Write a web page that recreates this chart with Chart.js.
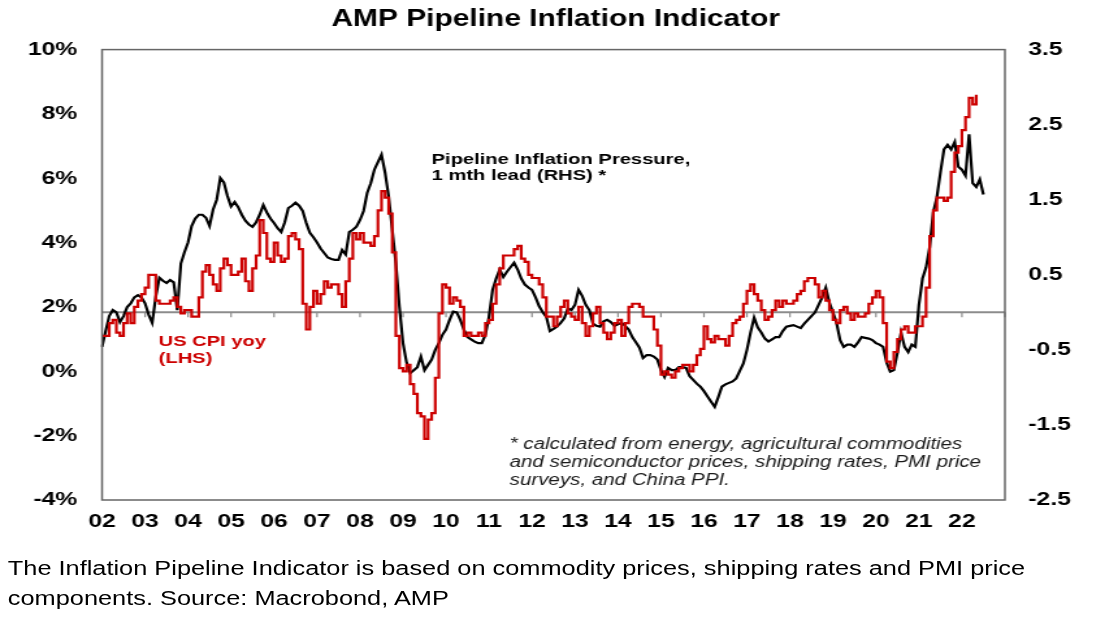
<!DOCTYPE html>
<html>
<head>
<meta charset="utf-8">
<title>AMP Pipeline Inflation Indicator</title>
<script src="https://cdn.jsdelivr.net/npm/chart.js@4.4.1/dist/chart.umd.min.js"></script>
<style>
  html, body { margin: 0; padding: 0; background: #fff; }
  /* the source picture is stretched sideways, so the whole chart is drawn narrower and widened */
  #stretch { position: absolute; left: 0; top: 0; width: 855px; height: 631px; transform: scaleX(1.3); transform-origin: 0 0; }
  #box { position: absolute; left: 0; top: 0; width: 855px; height: 545px; }
  #caption { position: absolute; left: 6px; top: 553px; font-family: "Liberation Sans", Arial, sans-serif;
             font-size: 19.5px; line-height: 30px; color: #000; white-space: nowrap; }
</style>
</head>
<body>
<div id="stretch">
  <div id="box"><canvas id="lineChart"></canvas></div>
  <div id="caption">The Inflation Pipeline Indicator is based on commodity prices, shipping rates and PMI price<br>components. Source: Macrobond, AMP</div>
</div>
<script>
// monthly categories, Jan 2002 .. Jan 2023
const months = [];
for (let y = 2002; y <= 2023; y++) {
    for (let m = 1; m <= 12; m++) {
        if (y === 2023 && m > 1) break;
        months.push(y + '-' + String(m).padStart(2, '0'));
    }
}

// US CPI yoy, % (LHS), Jan 2002 .. May 2022
const cpiYoy = [
    1.1, 1.1, 1.5, 1.6, 1.2, 1.1, 1.5, 1.8, 1.5, 2.0, 2.2, 2.4,      // 2002
    2.6, 3.0, 3.0, 2.2, 2.1, 2.1, 2.1, 2.2, 2.3, 2.0, 1.8, 1.9,      // 2003
    1.9, 1.7, 1.7, 2.3, 3.1, 3.3, 3.0, 2.7, 2.5, 3.2, 3.5, 3.3,      // 2004
    3.0, 3.0, 3.1, 3.5, 2.8, 2.5, 3.2, 3.6, 4.7, 4.3, 3.5, 3.4,      // 2005
    4.0, 3.6, 3.4, 3.5, 4.2, 4.3, 4.1, 3.8, 2.1, 1.3, 2.0, 2.5,      // 2006
    2.1, 2.4, 2.8, 2.6, 2.7, 2.7, 2.4, 2.0, 2.8, 3.5, 4.3, 4.1,      // 2007
    4.3, 4.0, 4.0, 3.9, 4.2, 5.0, 5.6, 5.4, 4.9, 3.7, 1.1, 0.1,      // 2008
    0.0, 0.2, -0.4, -0.7, -1.3, -1.4, -2.1, -1.5, -1.3, -0.2, 1.8, 2.7, // 2009
    2.6, 2.1, 2.3, 2.2, 2.0, 1.1, 1.2, 1.1, 1.1, 1.2, 1.1, 1.5,      // 2010
    1.6, 2.1, 2.7, 3.2, 3.6, 3.6, 3.6, 3.8, 3.9, 3.5, 3.4, 3.0,      // 2011
    2.9, 2.9, 2.7, 2.3, 1.7, 1.7, 1.4, 1.7, 2.0, 2.2, 1.8, 1.7,      // 2012
    1.6, 2.0, 1.5, 1.1, 1.4, 1.8, 2.0, 1.5, 1.2, 1.0, 1.2, 1.5,      // 2013
    1.6, 1.1, 1.5, 2.0, 2.1, 2.1, 2.0, 1.7, 1.7, 1.7, 1.3, 0.8,      // 2014
    -0.1, 0.0, -0.1, -0.2, 0.0, 0.1, 0.2, 0.2, 0.0, 0.2, 0.5, 0.7,   // 2015
    1.4, 1.0, 0.9, 1.1, 1.0, 1.0, 0.8, 1.1, 1.5, 1.6, 1.7, 2.1,      // 2016
    2.5, 2.7, 2.4, 2.2, 1.9, 1.6, 1.7, 1.9, 2.2, 2.0, 2.2, 2.1,      // 2017
    2.1, 2.2, 2.4, 2.5, 2.8, 2.9, 2.9, 2.7, 2.3, 2.5, 2.2, 1.9,      // 2018
    1.6, 1.5, 1.9, 2.0, 1.8, 1.6, 1.8, 1.7, 1.7, 1.8, 2.1, 2.3,      // 2019
    2.5, 2.3, 1.5, 0.3, 0.1, 0.6, 1.0, 1.3, 1.4, 1.2, 1.2, 1.4,      // 2020
    1.4, 1.7, 2.6, 4.2, 5.0, 5.4, 5.4, 5.3, 5.4, 6.2, 6.8, 7.0,      // 2021
    7.5, 7.9, 8.5, 8.3, 8.6                                          // 2022
];

// Pipeline Inflation Pressure, 1 mth lead (RHS), Jan 2002 .. Jul 2022
const pipeline = [
    -0.46, -0.25, -0.05, 0.03, 0.0, -0.13, -0.05, 0.07, 0.12, 0.2, 0.23, 0.2,        // 2002
    0.12, -0.03, -0.14, 0.21, 0.46, 0.42, 0.39, 0.43, 0.4, 0.03, 0.65, 0.8,          // 2003
    0.93, 1.15, 1.25, 1.3, 1.3, 1.26, 1.15, 1.37, 1.5, 1.79, 1.73, 1.55,             // 2004
    1.41, 1.47, 1.4, 1.3, 1.22, 1.17, 1.14, 1.2, 1.3, 1.43, 1.33, 1.25,              // 2005
    1.19, 1.12, 1.07, 1.2, 1.39, 1.42, 1.46, 1.42, 1.35, 1.19, 1.06, 1.0,            // 2006
    0.93, 0.85, 0.79, 0.73, 0.71, 0.7, 0.7, 0.83, 0.77, 1.07, 1.1, 1.14,             // 2007
    1.23, 1.35, 1.59, 1.72, 1.9, 2.0, 2.1, 1.86, 1.54, 1.1, 0.66, 0.07,              // 2008
    -0.41, -0.67, -0.81, -0.77, -0.73, -0.59, -0.77, -0.7, -0.63, -0.5, -0.41, -0.3, // 2009
    -0.23, -0.1, 0.01, 0.0, -0.1, -0.23, -0.33, -0.36, -0.39, -0.41, -0.41, -0.3,    // 2010
    -0.06, 0.3, 0.45, 0.57, 0.47, 0.54, 0.6, 0.66, 0.57, 0.45, 0.37, 0.33,           // 2011
    0.3, 0.2, 0.08, 0.0, -0.06, -0.25, -0.22, -0.19, -0.14, -0.08, 0.05, 0.03,       // 2012
    0.1, 0.3, 0.22, 0.1, 0.03, -0.15, -0.18, -0.19, -0.12, -0.1, -0.13, -0.18,       // 2013
    -0.16, -0.14, -0.18, -0.23, -0.33, -0.4, -0.47, -0.61, -0.57, -0.57, -0.59, -0.63, // 2014
    -0.77, -0.86, -0.74, -0.77, -0.77, -0.73, -0.73, -0.74, -0.85, -0.9, -0.95, -0.99, // 2015
    -1.05, -1.12, -1.19, -1.26, -1.13, -0.99, -0.96, -0.94, -0.92, -0.88, -0.78, -0.68, // 2016
    -0.5, -0.27, -0.07, -0.2, -0.27, -0.35, -0.39, -0.36, -0.33, -0.33, -0.25, -0.19, // 2017
    -0.18, -0.17, -0.19, -0.21, -0.15, -0.1, -0.05, 0.0, 0.1, 0.2, 0.33, 0.13,       // 2018
    0.0, -0.14, -0.37, -0.46, -0.43, -0.43, -0.46, -0.4, -0.33, -0.34, -0.35, -0.37, // 2019
    -0.41, -0.43, -0.46, -0.67, -0.79, -0.77, -0.54, -0.27, -0.46, -0.53, -0.43, -0.46, // 2020
    0.1, 0.45, 0.6, 0.87, 1.33, 1.53, 1.86, 2.17, 2.23, 2.17, 2.27, 1.94,            // 2021
    1.9, 1.82, 2.37, 1.72, 1.67, 1.77, 1.57                                          // 2022
];

const leftTicks = { min: -4, max: 10, step: 2 };
const rightTicks = { min: -2.5, max: 3.5, step: 1 };

const RED = '#cc0000';
const FONT = '"Liberation Sans", Arial, sans-serif';

const notes = [
    { lines: ['Pipeline Inflation Pressure,', '1 mth lead (RHS) *'], x: 332, y: 164, step: 16,
      font: 'bold 15.5px ' + FONT, color: '#000' },
    { lines: ['US CPI yoy', '(LHS)'], x: 122, y: 346, step: 17,
      font: 'bold 15.5px ' + FONT, color: RED },
    { lines: ['* calculated from energy, agricultural commodities',
              'and semiconductor prices, shipping rates, PMI price',
              'surveys, and China PPI.'], x: 392, y: 449, step: 18,
      font: 'italic 15.8px ' + FONT, color: '#1a1a1a' }
];

// zero line on the RHS scale with year ticks, plot frame and the text notes
const decorations = {
    id: 'decorations',
    beforeDatasetsDraw(chart) {
        const { ctx, chartArea: a, scales } = chart;
        const y0 = scales.y2.getPixelForValue(0);
        ctx.save();
        ctx.strokeStyle = '#8c8c8c';
        ctx.lineWidth = 2;
        ctx.beginPath();
        ctx.moveTo(a.left, y0);
        ctx.lineTo(a.right, y0);
        ctx.stroke();
        ctx.lineWidth = 1.2;
        ctx.beginPath();
        months.forEach((m, i) => {
            if (i > 0 && m.endsWith('-01')) {
                const x = scales.x.getPixelForValue(i);
                ctx.moveTo(x, y0);
                ctx.lineTo(x, y0 + 5);
            }
        });
        ctx.stroke();
        ctx.restore();
    },
    afterDraw(chart) {
        const { ctx, chartArea: a } = chart;
        ctx.save();
        ctx.strokeStyle = '#666';
        ctx.lineWidth = 1.5;
        ctx.strokeRect(a.left, a.top, a.right - a.left, a.bottom - a.top);
        ctx.textBaseline = 'alphabetic';
        ctx.textAlign = 'left';
        notes.forEach(n => {
            ctx.font = n.font;
            ctx.fillStyle = n.color;
            n.lines.forEach((t, k) => ctx.fillText(t, n.x, n.y + k * n.step));
        });
        ctx.restore();
    }
};

const ctx = document.getElementById('lineChart').getContext('2d');
const chartInstance = new Chart(ctx, {
    type: 'line',
    data: {
        labels: months,
        datasets: [
            {
                label: 'US CPI yoy (LHS)',
                data: cpiYoy,
                yAxisID: 'y',
                borderColor: RED,
                borderWidth: 2.2,
                stepped: true,
                pointRadius: 0,
                fill: false
            },
            {
                label: 'Pipeline Inflation Pressure, 1 mth lead (RHS)',
                data: pipeline,
                yAxisID: 'y2',
                borderColor: '#000',
                borderWidth: 2.2,
                tension: 0,
                pointRadius: 0,
                fill: false
            }
        ]
    },
    options: {
        responsive: true,
        maintainAspectRatio: false,
        animation: false,
        layout: { padding: 0 },
        plugins: {
            legend: { display: false },
            tooltip: { enabled: false },
            title: {
                display: true,
                text: 'AMP Pipeline Inflation Indicator',
                color: '#000',
                font: { family: FONT, size: 23, weight: 'bold' },
                padding: { top: 6, bottom: 16 }
            }
        },
        scales: {
            x: {
                type: 'category',
                grid: { display: false, drawTicks: false },
                border: { display: false },
                ticks: {
                    autoSkip: false,
                    maxRotation: 0,
                    padding: 10,
                    color: '#000',
                    font: { family: FONT, size: 19, weight: 'bold' },
                    callback: function (value, index) {
                        const m = months[index];
                        return (m.endsWith('-01') && m < '2023') ? m.slice(2, 4) : null;
                    }
                },
                afterFit: s => { s.height = 45; }
            },
            y: {
                position: 'left',
                min: leftTicks.min,
                max: leftTicks.max,
                grid: { display: false, drawTicks: false },
                border: { display: false },
                ticks: {
                    stepSize: leftTicks.step,
                    padding: 19,
                    color: '#000',
                    font: { family: FONT, size: 19, weight: 'bold' },
                    callback: v => v + '%'
                },
                afterFit: s => { s.width = 78.5; }
            },
            y2: {
                position: 'right',
                min: rightTicks.min,
                max: rightTicks.max,
                grid: { display: false, drawTicks: false },
                border: { display: false },
                ticks: {
                    stepSize: rightTicks.step,
                    padding: 18,
                    color: '#000',
                    font: { family: FONT, size: 19, weight: 'bold' },
                    callback: v => v.toFixed(1)
                },
                afterFit: s => { s.width = 82; }
            }
        }
    },
    plugins: [decorations]
});
</script>
</body>
</html>
